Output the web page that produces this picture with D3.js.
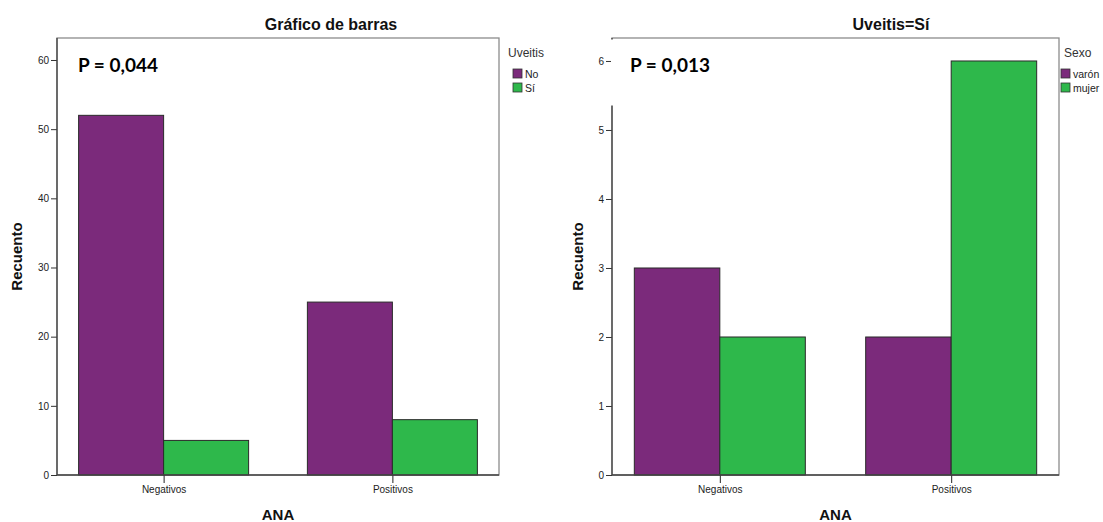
<!DOCTYPE html>
<html><head><meta charset="utf-8">
<script src="https://cdn.jsdelivr.net/npm/d3@7"></script>
<style>
html,body{margin:0;padding:0;background:#fff;}
svg{display:block;}
text{font-family:"Liberation Sans",Arial,sans-serif;}
</style></head>
<body>
<svg id="chart" width="1103" height="522"></svg>
<script>
// ---- data ----
const categories = ["Negativos", "Positivos"];
const leftSeriesNames = ["No", "Sí"];
const leftNo = [52, 25];
const leftSi = [5, 8];
const leftTicks = [0, 10, 20, 30, 40, 50, 60];
const rightSeriesNames = ["varón", "mujer"];
const rightVaron = [3, 2];
const rightMujer = [2, 6];
const rightTicks = [0, 1, 2, 3, 4, 5, 6];
const seriesColors = ["#7b2a7b", "#2eb84b"];

const svg = d3.select("#chart");
svg.append("rect").attr("width", 1103).attr("height", 522).attr("fill", "#fff");

function panel(cfg) {
  const g = svg.append("g");
  const top = 38, bottom = 475;
  const x = d3.scalePoint().domain(categories).range([cfg.x0, cfg.x1]).padding(0.466);
  const sub = d3.scaleBand().domain(cfg.names).range([-cfg.barW, cfg.barW]).padding(0);
  const y = d3.scaleLinear().domain([0, cfg.yMax]).range([bottom, top]);

  // frame
  g.append("rect").attr("x", cfg.x0).attr("y", top)
    .attr("width", cfg.x1 - cfg.x0).attr("height", bottom - top)
    .attr("fill", "#fff").attr("stroke", "#8c8c8c").attr("stroke-width", 1.3);

  // bars
  const rows = [];
  categories.forEach((c, i) => cfg.names.forEach((n, j) => rows.push({c, n, j, v: cfg.values[j][i]})));
  g.selectAll("rect.bar").data(rows).enter().append("rect")
    .attr("class", "bar")
    .attr("x", d => x(d.c) + sub(d.n))
    .attr("y", d => y(d.v))
    .attr("width", sub.bandwidth())
    .attr("height", d => y(0) - y(d.v))
    .attr("fill", d => seriesColors[d.j])
    .attr("stroke", "#2a2a2a").attr("stroke-width", 1);

  // y axis
  const ya = g.append("g").attr("transform", `translate(${cfg.x0},0)`)
    .call(d3.axisLeft(y).tickValues(cfg.ticks).tickSize(6).tickPadding(2).tickFormat(d3.format("d")));
  ya.select(".domain").remove();
  ya.selectAll(".tick line").attr("stroke", "#333");
  ya.selectAll(".tick text").attr("font-size", 10).attr("fill", "#222")
    .style("font-family", '"Liberation Sans", Arial, sans-serif');
  g.append("line").attr("x1", cfg.x0).attr("x2", cfg.x0).attr("y1", top).attr("y2", bottom)
    .attr("stroke", "#444").attr("stroke-width", 1.3);

  // x axis
  const xa = g.append("g").attr("transform", `translate(0,${bottom})`)
    .call(d3.axisBottom(x).tickSize(8).tickPadding(3));
  xa.select(".domain").remove();
  xa.selectAll(".tick line").attr("stroke", "#222");
  xa.selectAll(".tick text").attr("font-size", 10).attr("fill", "#222")
    .style("font-family", '"Liberation Sans", Arial, sans-serif');
  g.append("line").attr("x1", cfg.x0).attr("x2", cfg.x1).attr("y1", bottom).attr("y2", bottom)
    .attr("stroke", "#444").attr("stroke-width", 1.3);

  // white label box (covers part of frame)
  if (cfg.box) {
    g.append("rect").attr("x", cfg.x0 - 1).attr("y", top + 1.5)
      .attr("width", cfg.box[0]).attr("height", cfg.box[1]).attr("fill", "#fff");
  }

  // P value
  g.append("text").attr("x", cfg.pX).attr("y", 72)
    .style("font-family", "Lato, 'Open Sans', sans-serif")
    .attr("font-weight", "bold").attr("font-size", 19).attr("fill", "#000")
    .text(cfg.pText);

  // title
  g.append("text").attr("x", cfg.titleX).attr("y", 30).attr("text-anchor", "middle")
    .attr("font-weight", "bold").attr("font-size", 16).attr("fill", "#111").text(cfg.title);

  // axis titles
  g.append("text").attr("transform", `translate(${cfg.yLabelX},${(top + bottom) / 2}) rotate(-90)`)
    .attr("text-anchor", "middle").attr("font-weight", "bold").attr("font-size", 15)
    .attr("fill", "#111").text("Recuento");
  g.append("text").attr("x", (cfg.x0 + cfg.x1) / 2).attr("y", 520).attr("text-anchor", "middle")
    .attr("font-weight", "bold").attr("font-size", 15).attr("fill", "#111").text("ANA");

  // legend
  g.append("text").attr("x", cfg.legTitleX).attr("y", 57).attr("font-size", 12)
    .attr("fill", "#333").text(cfg.legTitle);
  const lg = g.selectAll("g.leg").data(cfg.names).enter().append("g")
    .attr("transform", (d, i) => `translate(${cfg.legX},${69 + i * 14})`);
  lg.append("rect").attr("width", 9).attr("height", 9)
    .attr("fill", (d, i) => seriesColors[i]).attr("stroke", "#333").attr("stroke-width", 0.8);
  lg.append("text").attr("x", 12).attr("y", 8.5).attr("font-size", 10.5).attr("fill", "#222").text(d => d);
}

panel({
  x0: 57, x1: 499, yMax: 63.18, ticks: leftTicks, barW: 85,
  names: leftSeriesNames, values: [leftNo, leftSi],
  title: "Gráfico de barras", titleX: 331, yLabelX: 22,
  pText: "P = 0,044", pX: 78,
  legTitle: "Uveitis", legTitleX: 508, legX: 513
});

panel({
  x0: 612, x1: 1059, yMax: 6.333, ticks: rightTicks, barW: 85.5,
  names: rightSeriesNames, values: [rightVaron, rightMujer],
  title: "Uveitis=Sí", titleX: 891, yLabelX: 583,
  pText: "P = 0,013", pX: 630, box: [120, 66],
  legTitle: "Sexo", legTitleX: 1064, legX: 1061
});
</script>
</body></html>
